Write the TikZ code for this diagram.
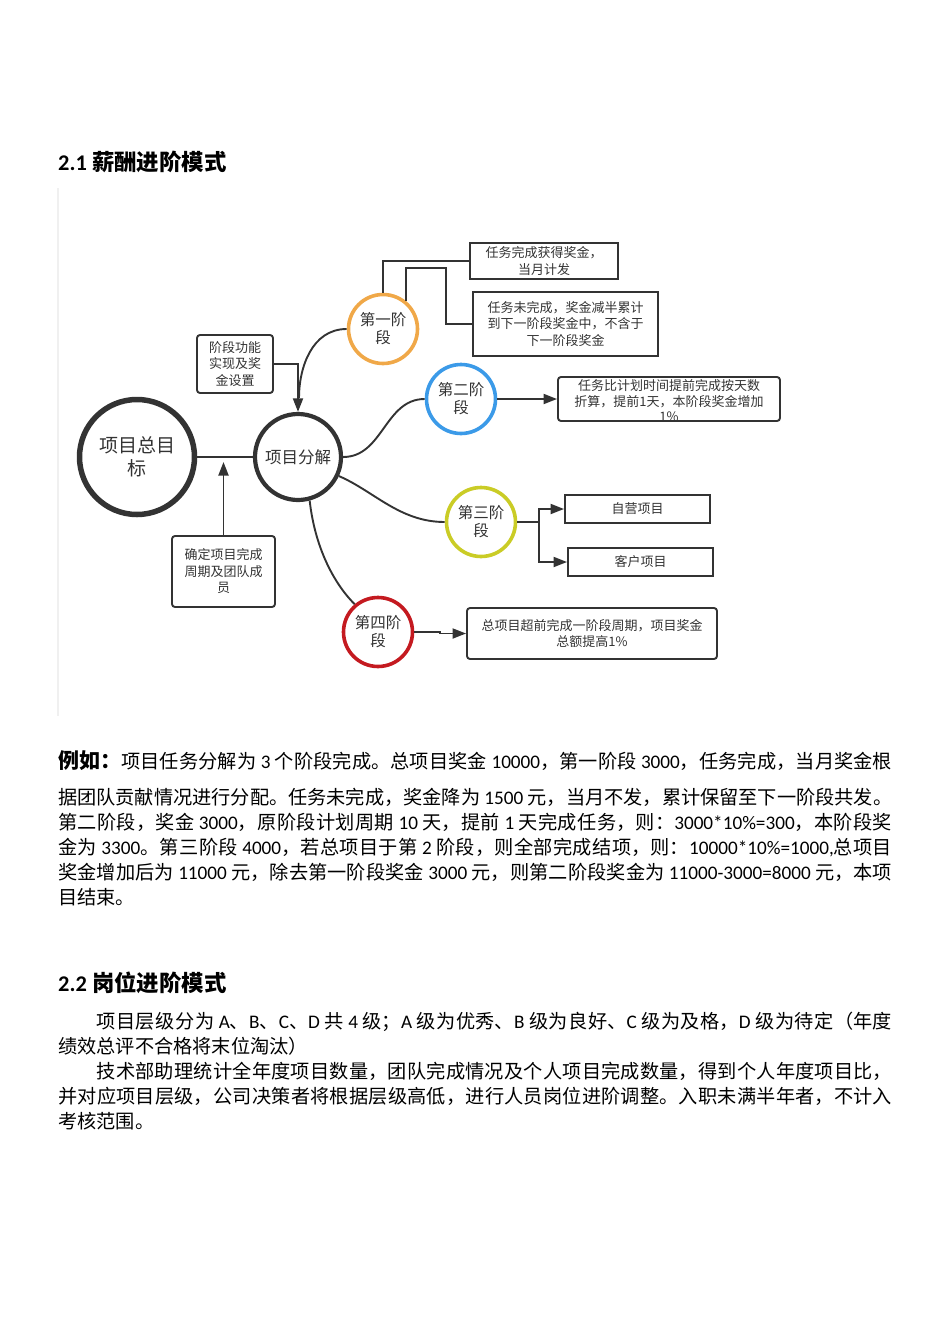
\documentclass[tikz,border=0pt]{standalone}
\usepackage{fontspec}
\setmainfont{Noto Sans CJK SC}
\newfontfamily\latf{Carlito}
\usetikzlibrary{arrows.meta,calc}
\definecolor{ln}{HTML}{333333}
\definecolor{corange}{HTML}{F0A848}
\definecolor{cblue}{HTML}{3B9AE8}
\definecolor{cyellow}{HTML}{CACC26}
\definecolor{cred}{HTML}{C41A20}
\newcommand\Lt[1]{{\latf #1}}
\newcommand\jline[2]{\parbox[b]{#1}{\XeTeXlinebreaklocale "zh"\XeTeXlinebreakskip=0pt plus 4pt minus 0.6pt\relax\parfillskip=0pt\relax\tolerance=10000\relax\noindent #2}}
\tikzset{
  conn/.style={draw=ln, line width=1.9pt},
  arr/.style={conn, -{Triangle[length=13.5pt,width=10pt]}},
  stage/.style={circle, line width=3.6pt, minimum size=69pt, inner sep=0pt, align=center, fill=white, text=ln, font=\fontsize{15.5}{18}\selectfont},
  sqbox/.style={draw=ln, line width=1.9pt, inner sep=0pt, align=center, text=ln, font=\fontsize{13}{16.5}\selectfont},
  rbox/.style={sqbox, rounded corners=3pt},
  body/.style={anchor=base west, inner sep=0pt, font=\fontsize{19.2}{25}\selectfont},
  head/.style={anchor=base west, inner sep=0pt, font=\fontsize{22.4}{26}\selectfont\bfseries},
}
\begin{document}
\begin{tikzpicture}[x=1pt,y=-1pt]
\useasboundingbox (0,0) rectangle (950,1344);
% faint image border
\draw[black!6, line width=1.5pt] (58,188) -- (58,716);

% headings
\node[head] (h1) at (58,170.5) {\Lt{\bfseries 2.1} 薪酬进阶模式};

% diagram nodes
\node[circle, draw=ln, line width=5.5pt, minimum size=115pt, inner sep=0pt, align=center, fill=white, text=ln, font=\fontsize{19}{23}\selectfont] (g) at (137,457) {项目总目\\标};
\node[circle, draw=ln, line width=4.2pt, minimum size=86pt, inner sep=0pt, fill=white, text=ln, font=\fontsize{16.5}{20}\selectfont] (p) at (298,457) {项目分解};
\node[stage, draw=corange] (s1) at (383,329) {第一阶\\段};
\node[stage, draw=cblue] (s2) at (461,399) {第二阶\\段};
\node[stage, draw=cyellow] (s3) at (481,522) {第三阶\\段};
\node[stage, draw=cred] (s4) at (378,632) {第四阶\\段};

\node[rbox, minimum width=76pt, minimum height=58pt] (a1) at (235,364) {阶段功能\\实现及奖\\金设置};
\node[rbox, minimum width=103pt, minimum height=71pt] (c1) at (223.5,571.5) {确定项目完成\\周期及团队成\\员};
\node[sqbox, minimum width=148pt, minimum height=36pt] (t1) at (544,261) {任务完成获得奖金，\\当月计发};
\node[sqbox, minimum width=185pt, minimum height=64pt] (t2) at (565.5,324) {任务未完成，奖金减半累计\\到下一阶段奖金中，不含于\\下一阶段奖金};
\node[rbox, minimum width=222pt, minimum height=44pt] (b3) at (669,399) {};
\node[inner sep=0pt, align=center, text=ln, font=\fontsize{13}{15.5}\selectfont] (b3t) at (669,401) {任务比计划时间提前完成按天数\\折算，提前1天，本阶段奖金增加\\1\%};
\node[sqbox, minimum width=145pt, minimum height=28pt] (z1) at (637.5,509) {自营项目};
\node[sqbox, minimum width=145pt, minimum height=28pt] (z2) at (640.5,562) {客户项目};
\node[rbox, minimum width=250pt, minimum height=51pt] (b4) at (592,633.5) {总项目超前完成一阶段周期，项目奖金\\总额提高1\%};

\coordinate (cup) at (223.5,462);

% connectors
\draw[conn] (g.east) -- (p.west);
\draw[arr] (a1.east) -| (p.north);
\draw[conn] (s1.west) .. controls +(-35,0) and +(0,-30) .. ($(p.north)+(1,-14)$);
\draw[arr] (c1.north) -- (cup);
\draw[conn] (s1.north) |- (t1.west);
\draw[conn] (s1.50) |- ($(t2.west)+(-26,-56)$) |- (t2.west);
\draw[conn] (p.east) .. controls +(40,0) and +(-40,0) .. (s2.west);
\draw[arr] (s2.east) -- (b3.west);
\draw[conn] (p.-25) .. controls +(35,15) and +(-45,0) .. (s3.west);
\draw[arr] (s3.east) -- ++(22,0) |- (z1.west);
\draw[arr] (s3.east) -- ++(22,0) |- (z2.west);
\draw[conn] (p.-75) .. controls +(5,45) and +(-22,-22) .. (s4.130);
\draw[arr] (s4.east) -- ++(26,0) |- (b4.west);

% example paragraph
\node[body] (e1) at (58,768) {\jline{834pt}{{\fontsize{21}{25}\selectfont\bfseries 例如：}项目任务分解为 \Lt{3} 个阶段完成。总项目奖金 \Lt{10000}，第一阶段 \Lt{3000}，任务完成，当月奖金根}};
\node[body] (e2) at (58,804) {\jline{834pt}{据团队贡献情况进行分配。任务未完成，奖金降为 \Lt{1500} 元，当月不发，累计保留至下一阶段共发。}};
\node[body] (e3) at (58,829) {\jline{834pt}{第二阶段，奖金 \Lt{3000}，原阶段计划周期 \Lt{10} 天，提前 \Lt{1} 天完成任务，则：\Lt{3000*10\%=300}，本阶段奖}};
\node[body] (e4) at (58,854) {\jline{834pt}{金为 \Lt{3300}。第三阶段 \Lt{4000}，若总项目于第 \Lt{2} 阶段，则全部完成结项，则：\Lt{10000*10\%=1000,}总项目}};
\node[body] (e5) at (58,879) {\jline{834pt}{奖金增加后为 \Lt{11000} 元，除去第一阶段奖金 \Lt{3000} 元，则第二阶段奖金为 \Lt{11000-3000=8000} 元，本项}};
\node[body] (e6) at (58,904) {目结束。};

% section 2.2
\node[head] (h2) at (58,991.5) {\Lt{\bfseries 2.2} 岗位进阶模式};
\node[body] (q1) at (96.4,1028) {\jline{795.6pt}{项目层级分为 \Lt{A}、\Lt{B}、\Lt{C}、\Lt{D} 共 \Lt{4} 级；\Lt{A} 级为优秀、\Lt{B} 级为良好、\Lt{C} 级为及格，\Lt{D} 级为待定（年度}};
\node[body] (q2) at (58,1053) {绩效总评不合格将末位淘汰）};
\node[body] (q3) at (96.4,1078) {\jline{795.6pt}{技术部助理统计全年度项目数量，团队完成情况及个人项目完成数量，得到个人年度项目比，}};
\node[body] (q4) at (58,1103) {\jline{834pt}{并对应项目层级，公司决策者将根据层级高低，进行人员岗位进阶调整。入职未满半年者，不计入}};
\node[body] (q5) at (58,1128) {考核范围。};
\end{tikzpicture}
\end{document}
